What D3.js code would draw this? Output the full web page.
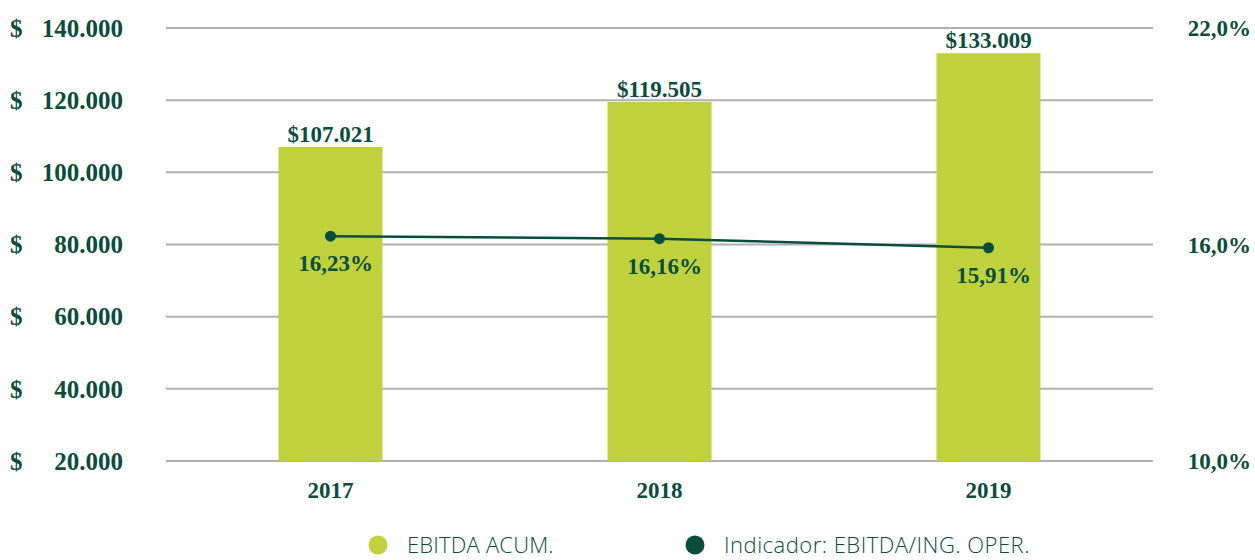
<!DOCTYPE html>
<html>
<head>
<meta charset="utf-8">
<script src="https://cdn.jsdelivr.net/npm/d3@7"></script>
<style>
  html, body { margin: 0; padding: 0; background: #ffffff; }
  svg { display: block; }
</style>
</head>
<body>
<svg id="chart" width="1255" height="560"></svg>
<script>
// EBITDA acumulado por año y su indicador sobre ingresos operacionales
const years = ["2017", "2018", "2019"];
const ebitda = [107021, 119505, 133009];
const ebitdaLabels = ["$107.021", "$119.505", "$133.009"];
const margin = [16.23, 16.16, 15.91];
const marginLabels = ["16,23%", "16,16%", "15,91%"];
const leftTicks = [20000, 40000, 60000, 80000, 100000, 120000, 140000];
const leftTickLabels = ["20.000", "40.000", "60.000", "80.000", "100.000", "120.000", "140.000"];
const rightTicks = [10, 16, 22];
const rightTickLabels = ["10,0%", "16,0%", "22,0%"];
const legendLabels = ["EBITDA ACUM.", "Indicador: EBITDA/ING. OPER."];

const GREEN_DARK = "#0b4d3b";
const LIME = "#bfd23e";
const GRID = "#b0b0b0";
const SERIF = "'Liberation Serif', 'DejaVu Serif', serif";
const SANS = "'Open Sans', 'Noto Sans', sans-serif";

const svg = d3.select("#chart");
const plot = { left: 166, right: 1153, top: 28, bottom: 461 };

const x = d3.scaleBand().domain(years).range([plot.left, plot.right]).paddingInner(0).paddingOuter(0);
const barW = x.bandwidth() * 0.316;
const yL = d3.scaleLinear().domain([20000, 140000]).range([plot.bottom, plot.top]);
const yR = d3.scaleLinear().domain([10, 22]).range([plot.bottom, plot.top]);

// horizontal gridlines
svg.append("g")
  .selectAll("line")
  .data(leftTicks)
  .join("line")
  .attr("x1", plot.left)
  .attr("x2", plot.right)
  .attr("y1", d => yL(d))
  .attr("y2", d => yL(d))
  .attr("stroke", GRID)
  .attr("stroke-width", 2);

// left axis: "$" column plus right-aligned amounts
const leftAxis = svg.append("g")
  .attr("transform", `translate(123,0)`)
  .call(d3.axisLeft(yL).tickValues(leftTicks).tickSize(0).tickPadding(0)
    .tickFormat((d, i) => leftTickLabels[i]));
leftAxis.select(".domain").remove();
leftAxis.selectAll("text")
  .attr("fill", GREEN_DARK)
  .attr("font-family", SERIF)
  .attr("font-weight", "bold")
  .attr("font-size", 25)
  .attr("dy", "0.33em");
leftAxis.selectAll(".tick")
  .append("text")
  .text("$")
  .attr("x", -113)
  .attr("dy", "0.33em")
  .attr("text-anchor", "start")
  .attr("fill", GREEN_DARK)
  .attr("font-family", SERIF)
  .attr("font-weight", "bold")
  .attr("font-size", 25);

// right axis (percentage)
const rightAxis = svg.append("g")
  .attr("transform", `translate(1251,0)`)
  .call(d3.axisLeft(yR).tickValues(rightTicks).tickSize(0).tickPadding(0)
    .tickFormat((d, i) => rightTickLabels[i]));
rightAxis.select(".domain").remove();
rightAxis.selectAll("text")
  .attr("fill", GREEN_DARK)
  .attr("font-family", SERIF)
  .attr("font-weight", "bold")
  .attr("font-size", 23)
  .attr("dy", "0.33em");

// bottom axis: years
const bottomAxis = svg.append("g")
  .attr("transform", `translate(0,${plot.bottom})`)
  .call(d3.axisBottom(x).tickSize(0).tickPadding(0));
bottomAxis.select(".domain").remove();
bottomAxis.selectAll("text")
  .attr("fill", GREEN_DARK)
  .attr("font-family", SERIF)
  .attr("font-weight", "bold")
  .attr("font-size", 23)
  .attr("dy", "1.6em");

// bars
svg.append("g")
  .selectAll("rect")
  .data(ebitda)
  .join("rect")
  .attr("x", (d, i) => x(years[i]) + x.bandwidth() / 2 - barW / 2)
  .attr("width", barW)
  .attr("y", d => yL(d))
  .attr("height", d => yL(20000) - yL(d))
  .attr("fill", LIME);

// bar value labels
svg.append("g")
  .selectAll("text")
  .data(ebitda)
  .join("text")
  .attr("x", (d, i) => x(years[i]) + x.bandwidth() / 2)
  .attr("y", d => yL(d) - 5)
  .attr("text-anchor", "middle")
  .attr("fill", GREEN_DARK)
  .attr("font-family", SERIF)
  .attr("font-weight", "bold")
  .attr("font-size", 23)
  .text((d, i) => ebitdaLabels[i]);

// indicator line
const cx = (d, i) => x(years[i]) + x.bandwidth() / 2;
const line = d3.line().x(cx).y(d => yR(d));
svg.append("path")
  .datum(margin)
  .attr("d", line)
  .attr("fill", "none")
  .attr("stroke", GREEN_DARK)
  .attr("stroke-width", 2.5);

svg.append("g")
  .selectAll("circle")
  .data(margin)
  .join("circle")
  .attr("cx", cx)
  .attr("cy", d => yR(d))
  .attr("r", 5.5)
  .attr("fill", GREEN_DARK);

svg.append("g")
  .selectAll("text")
  .data(margin)
  .join("text")
  .attr("x", (d, i) => cx(d, i) + 5)
  .attr("y", d => yR(d) + 35)
  .attr("text-anchor", "middle")
  .attr("fill", GREEN_DARK)
  .attr("font-family", SERIF)
  .attr("font-weight", "bold")
  .attr("font-size", 23)
  .text((d, i) => marginLabels[i]);

// legend
const legend = svg.append("g").attr("transform", "translate(0,545)");
const legendItems = [
  { x: 378, color: LIME, label: legendLabels[0] },
  { x: 695, color: GREEN_DARK, label: legendLabels[1] }
];
const li = legend.selectAll("g").data(legendItems).join("g")
  .attr("transform", d => `translate(${d.x},0)`);
li.append("circle").attr("r", 9.5).attr("fill", d => d.color);
li.append("text")
  .attr("x", 29)
  .attr("dy", "0.36em")
  .attr("fill", GREEN_DARK)
  .attr("font-family", SANS)
  .attr("font-weight", 300)
  .attr("font-size", 22)
  .attr("letter-spacing", (d, i) => i === 1 ? 0.5 : 0.2)
  .text(d => d.label);
</script>
</body>
</html>
